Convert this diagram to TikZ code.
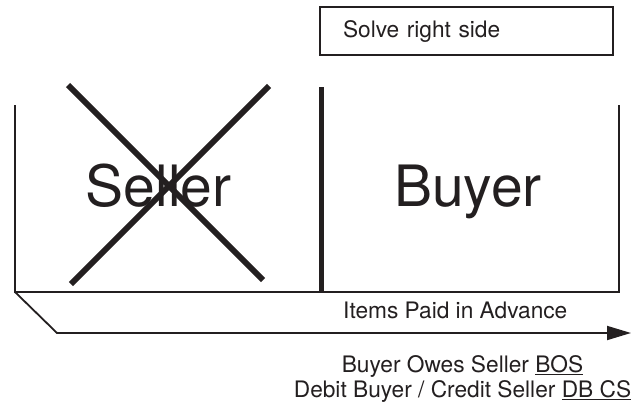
\documentclass[tikz,border=0pt]{standalone}
\usepackage{fontspec}
\setmainfont{TeX Gyre Heros}
\usetikzlibrary{arrows.meta}
\definecolor{ink}{RGB}{35,31,32}
\tikzset{
  thin line/.style={draw=ink, line width=1.8pt},
  divider/.style={draw=ink, line width=5.5pt},
  cross/.style={draw=ink, line width=6pt},
  label/.style={font=\fontsize{22.7}{25.5}\selectfont, text=ink, inner sep=0pt},
  big label/.style={font=\fontsize{57}{60}\selectfont, text=ink, inner sep=0pt},
  note box/.style={draw=ink, line width=1.2pt, minimum width=293pt, minimum height=48pt,
    text width=247pt, inner xsep=23pt, align=left, font=\fontsize{22.7}{25.5}\selectfont, text=ink},
}
\begin{document}
\begin{tikzpicture}[x=1pt, y=-1pt]
  \useasboundingbox (0,0) rectangle (634,404);

  % note in the top right corner
  \node[note box] (solve) at (466.5,31) {Solve right side};

  % the two sides
  \node[big label, anchor=base] (seller) at (158.5,206) {Seller};
  \node[big label, anchor=base] (buyer) at (468,206) {Buyer};

  % open frame
  \coordinate (tl) at (15,105);
  \coordinate (bl) at (15,292);
  \coordinate (br) at (619,292);
  \coordinate (tr) at (619,105);
  \draw[thin line, line join=miter] (tl) -- (bl) -- (br) -- (tr);

  % divider between seller and buyer
  \coordinate (dtop) at (321.5,87);
  \coordinate (dbot) at (321.5,292);
  \draw[divider] (dtop) -- (dbot);

  % seller side crossed out
  \coordinate (x1a) at (68,85);
  \coordinate (x1b) at (263,280);
  \coordinate (x2a) at (269,86);
  \coordinate (x2b) at (71,284);
  \draw[cross] (x1a) -- (x1b);
  \draw[cross] (x2a) -- (x2b);

  % time line
  \coordinate (bend) at (57,333);
  \coordinate (tip) at (631,333);
  \draw[thin line, line join=miter, -{Triangle[length=24pt, width=14pt]}] (bl) -- (bend) -- (tip);

  % labels below
  \node[label, anchor=base west] (items) at (343,318) {Items Paid in Advance};
  \node[label, anchor=base] (bos) at (462.5,372) {Buyer Owes Seller \underline{BOS}};
  \node[label, anchor=base] (dbcs) at (462.5,397.5) {Debit Buyer / Credit Seller \underline{DB CS}};
\end{tikzpicture}
\end{document}
